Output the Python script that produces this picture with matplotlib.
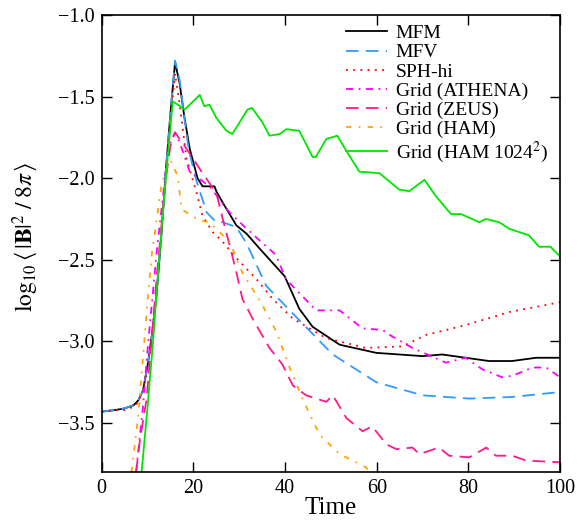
import numpy as np
import matplotlib
matplotlib.use('Agg')
import matplotlib.pyplot as plt

# MFM
t_mfm = [0, 3, 5, 7, 8, 9, 10, 11, 12, 13, 14, 15, 16, 17, 18, 19.2, 20.9, 22, 24.6, 25, 26.4, 29.4,
         31.6, 34.4, 39.9, 43.1, 46, 51.9, 59.9, 70, 74.3, 84.5, 89.5, 94.8, 100]
b_mfm = [-3.43, -3.42, -3.41, -3.39, -3.36, -3.30, -3.15, -2.95, -2.70, -2.35, -1.95, -1.60, -1.29, -1.42,
         -1.62, -1.82, -2.00, -2.05, -2.05, -2.08, -2.15, -2.29, -2.34, -2.43, -2.60, -2.80, -2.91, -3.02,
         -3.07, -3.09, -3.08, -3.12, -3.12, -3.10, -3.10]

# MFV
t_mfv = [0, 3, 5, 7, 8, 9, 10, 11, 12, 13, 14, 15, 16, 17, 18, 19, 20.7, 22.9, 25, 26.4, 29.4, 31.6,
         35.9, 43.1, 50.4, 59.9, 70, 80.2, 89.6, 100]
b_mfv = [-3.43, -3.42, -3.41, -3.39, -3.36, -3.30, -3.15, -2.95, -2.70, -2.35, -1.95, -1.60, -1.28, -1.40,
         -1.62, -1.83, -2.02, -2.21, -2.27, -2.27, -2.30, -2.40, -2.66, -2.87, -3.08, -3.25, -3.33, -3.35,
         -3.34, -3.31]

# SPH-hi
t_sph = [0, 3, 5, 7, 8, 9, 10, 11, 12, 13, 14, 15, 16, 17, 18.5, 20.7, 22, 24.2, 26.4, 29.4, 33.8,
         37.3, 41.7, 49, 57.6, 65.6, 70.8, 79.4, 88.9, 100]
b_sph = [-3.43, -3.42, -3.42, -3.40, -3.37, -3.30, -3.15, -2.95, -2.70, -2.35, -1.98, -1.65, -1.36, -1.55,
         -1.88, -2.09, -2.23, -2.33, -2.39, -2.49, -2.62, -2.74, -2.86, -2.98, -3.04, -3.03, -2.96, -2.90,
         -2.82, -2.76]

# Grid (ATHENA)
t_ath = [7.5, 9, 10, 11, 12, 13, 14, 15, 16, 17, 19.2, 23.5, 27.9, 31.6, 38, 40.2, 46.8, 51.9, 56.9,
         61.3, 63.4, 67.8, 75.1, 79.4, 83, 87.4, 89.6, 94, 97, 100]
b_ath = [-3.80, -3.40, -3.05, -2.75, -2.45, -2.20, -1.95, -1.78, -1.72, -1.78, -1.96, -2.05, -2.21,
         -2.31, -2.47, -2.62, -2.81, -2.81, -2.92, -2.93, -2.97, -3.04, -3.13, -3.10, -3.17, -3.22, -3.21,
         -3.16, -3.16, -3.22]

# Grid (ZEUS)
t_zeus = [7.5, 8.3, 9.8, 11, 12, 13, 14, 15, 16, 17, 18.5, 22, 25, 26.4, 27.9, 29.4, 30.7, 32.9, 36.6,
          39.4, 41.7, 44.6, 49, 50.4, 53.4, 56.9, 59, 62.1, 64.3, 67.8, 69.3, 73.6, 75.8, 80.2, 83.9, 86,
          89.6, 92.6, 100]
b_zeus = [-3.80, -3.61, -3.35, -2.95, -2.60, -2.30, -2.00, -1.80, -1.72, -1.76, -1.82, -1.97, -2.09,
          -2.25, -2.41, -2.58, -2.74, -2.86, -3.04, -3.14, -3.27, -3.33, -3.37, -3.33, -3.47, -3.55, -3.52,
          -3.63, -3.66, -3.65, -3.69, -3.65, -3.70, -3.71, -3.65, -3.70, -3.70, -3.73, -3.74]

# Grid (HAM)
t_ham = [6.5, 8, 9, 10, 11, 12, 13, 14, 15, 16.6, 17.4, 21.4, 23.5, 27.9, 30.7, 33.8, 35.1, 38.1, 41,
         43.8, 47.5, 51.9, 57.6, 58.5]
b_ham = [-3.80, -3.45, -3.10, -2.75, -2.45, -2.25, -2.05, -1.95, -1.89, -1.99, -2.19, -2.26, -2.27,
         -2.39, -2.58, -2.72, -2.78, -2.94, -3.16, -3.35, -3.57, -3.69, -3.77, -3.80]

# Grid (HAM 1024^2)
t_h1024 = [8.7, 10, 11.2, 12.5, 14.2, 15.5, 16.6, 18.1, 21.4, 22.4, 23.5, 25, 27.2, 28.5, 31.8, 32.8,
           35.1, 36.6, 38.8, 40.3, 43.1, 46, 46.7, 49, 51.4, 53.3, 56.2, 60.6, 64.9, 67.1, 70.4, 72.9,
           76.2, 78.4, 82.4, 83.8, 86.7, 88.9, 93.2, 95.4, 97.9, 99.3, 100]
b_h1024 = [-3.80, -3.40, -3.00, -2.50, -1.93, -1.53, -1.55, -1.58, -1.49, -1.56, -1.55, -1.63, -1.71,
           -1.73, -1.58, -1.57, -1.66, -1.74, -1.73, -1.70, -1.71, -1.87, -1.87, -1.76, -1.74, -1.83,
           -1.96, -1.97, -2.07, -2.08, -2.01, -2.11, -2.22, -2.22, -2.27, -2.25, -2.27, -2.31, -2.35,
           -2.42, -2.42, -2.46, -2.48]

y_ticks = [-3.5, -3.0, -2.5, -2.0, -1.5, -1.0]
x_ticks = [0, 20, 40, 60, 80, 100]


def plot_energy():
    plt.rcParams['font.family'] = 'serif'
    plt.rcParams['font.serif'] = ['Liberation Serif', 'DejaVu Serif']
    plt.rcParams['mathtext.fontset'] = 'stix'
    plt.rcParams['axes.unicode_minus'] = True

    fig = plt.figure(figsize=(5.78, 5.31), dpi=100)
    ax = fig.add_axes([0.176, 0.111, 0.793, 0.861])

    lw = 1.3
    ax.plot(t_mfm, b_mfm, color='black', lw=lw, label='MFM')
    ax.plot(t_mfv, b_mfv, color='#3399ff', lw=lw, dashes=(7, 4), label='MFV')
    ax.plot(t_sph, b_sph, color='red', lw=lw, dashes=(1, 3), label='SPH-hi')
    ax.plot(t_ath, b_ath, color='magenta', lw=lw, dashes=(4, 3, 1, 3), label='Grid (ATHENA)')
    ax.plot(t_zeus, b_zeus, color='#ff1a8c', lw=lw, dashes=(7, 4), label='Grid (ZEUS)')
    ax.plot(t_ham, b_ham, color='orange', lw=lw, dashes=(3, 4, 1, 4), label='Grid (HAM)')
    ax.plot(t_h1024, b_h1024, color='#00e600', lw=lw, label='Grid (HAM 1024$^2$)')

    ax.set_xlim(0, 100)
    ax.set_ylim(-3.8, -1.0)
    ax.set_xticks(x_ticks)
    ax.set_yticks(y_ticks)
    ax.set_yticklabels(['\u2212%.1f' % abs(v) for v in y_ticks])
    ax.tick_params(direction='in', top=True, right=True, length=7, width=1, labelsize=14.5, pad=5)
    for s in ax.spines.values():
        s.set_linewidth(1.2)
    ax.set_xlabel('Time', fontsize=18, labelpad=-1)
    ax.set_ylabel(r'$\log_{10}\left\langle\,|\mathbf{B}|^2\;/\;8\pi\,\right\rangle$', fontsize=17)
    ax.yaxis.set_label_coords(-0.135, 0.514)

    ax.legend(loc='upper right', frameon=False, fontsize=14, handlelength=2.1, handletextpad=0.45,
              labelspacing=0.08, borderaxespad=0.1, bbox_to_anchor=(0.995, 1.0))

    plt.savefig('out.png')


if __name__ == '__main__':
    plot_energy()
